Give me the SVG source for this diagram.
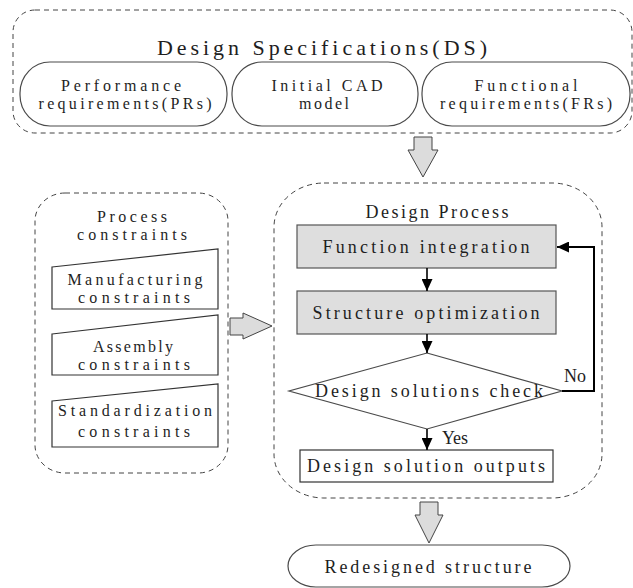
<svg xmlns="http://www.w3.org/2000/svg" width="633" height="588" viewBox="0 0 633 588">
  <style>
    text { font-family: "Liberation Serif", "DejaVu Serif", serif; fill: #1e1e1e; font-size: 18px; text-anchor: middle; }
    .title { font-size: 22px; }
    .two { font-size: 16px; }
    .dash { fill: none; stroke: #444; stroke-width: 1; stroke-dasharray: 5 4; }
    .pill { fill: #fff; stroke: #4a4a4a; stroke-width: 1.2; }
    .gray { fill: #dedede; stroke: #555; stroke-width: 1.2; }
    .plain { fill: #fff; stroke: #333; stroke-width: 1.2; }
    .block { fill: #dcdcdc; stroke: #444; stroke-width: 1; }
    .flow { fill: none; stroke: #000; stroke-width: 1.6; }
    .loop { fill: none; stroke: #000; stroke-width: 2; }
  </style>
  <defs>
    <marker id="head" markerUnits="userSpaceOnUse" markerWidth="12" markerHeight="11" refX="12" refY="5.5" orient="auto">
      <path d="M0,0 L12,5.5 L0,11 z" fill="#000"/>
    </marker>
  </defs>

  <rect width="633" height="588" fill="#fff"/>

  <g font-family="Liberation Serif, DejaVu Serif, serif">
  <!-- Design specifications group -->
  <g id="design-specifications">
    <rect class="dash" x="13" y="10" width="619" height="123" rx="22" ry="22"/>
    <text class="title" x="322" y="55" textLength="330" lengthAdjust="spacing">Design Specifications(DS)</text>
  </g>
  <g id="performance-requirements">
    <rect class="pill" x="20" y="62" width="207" height="64" rx="30" ry="31"/>
    <text class="two"><tspan x="121" y="91" textLength="120" lengthAdjust="spacing">Performance</tspan><tspan x="125" y="109" textLength="173" lengthAdjust="spacing">requirements(PRs)</tspan></text>
  </g>
  <g id="initial-cad-model">
    <rect class="pill" x="232" y="62" width="186" height="64" rx="30" ry="31"/>
    <text class="two"><tspan x="327" y="91" textLength="111" lengthAdjust="spacing">Initial CAD</tspan><tspan x="324" y="109" textLength="50" lengthAdjust="spacing">model</tspan></text>
  </g>
  <g id="functional-requirements">
    <rect class="pill" x="422" y="62" width="208" height="64" rx="30" ry="31"/>
    <text class="two"><tspan x="526" y="91" textLength="103" lengthAdjust="spacing">Functional</tspan><tspan x="526" y="109" textLength="172" lengthAdjust="spacing">requirements(FRs)</tspan></text>
  </g>

  <!-- Process constraints group -->
  <g id="process-constraints">
    <rect class="dash" x="35" y="193" width="193" height="280" rx="30" ry="28"/>
    <text class="two"><tspan x="132" y="222" textLength="70" lengthAdjust="spacing">Process</tspan><tspan x="132" y="240" textLength="110" lengthAdjust="spacing">constraints</tspan></text>
  </g>
  <g id="manufacturing-constraints">
    <polygon class="plain" points="52,267 218,249 218,309 52,309"/>
    <text class="two"><tspan x="135" y="285" textLength="135" lengthAdjust="spacing">Manufacturing</tspan><tspan x="134" y="303" textLength="112" lengthAdjust="spacing">constraints</tspan></text>
  </g>
  <g id="assembly-constraints">
    <polygon class="plain" points="52,334 218,315 218,375 52,375"/>
    <text class="two"><tspan x="133" y="352" textLength="80" lengthAdjust="spacing">Assembly</tspan><tspan x="134" y="370" textLength="112" lengthAdjust="spacing">constraints</tspan></text>
  </g>
  <g id="standardization-constraints">
    <polygon class="plain" points="52,401 218,384 218,447 52,447"/>
    <text class="two"><tspan x="135" y="416" textLength="154" lengthAdjust="spacing">Standardization</tspan><tspan x="134" y="437" textLength="112" lengthAdjust="spacing">constraints</tspan></text>
  </g>

  <!-- Design process group -->
  <g id="design-process">
    <rect class="dash" x="274" y="183" width="328" height="315" rx="50" ry="44"/>
    <text x="437" y="218" textLength="143" lengthAdjust="spacing">Design Process</text>
  </g>
  <g id="function-integration">
    <rect class="gray" x="297" y="225" width="259" height="43"/>
    <text x="426" y="253" textLength="207" lengthAdjust="spacing">Function integration</text>
  </g>
  <g id="structure-optimization">
    <rect class="gray" x="297" y="291" width="259" height="43"/>
    <text x="426" y="319" textLength="227" lengthAdjust="spacing">Structure optimization</text>
  </g>
  <g id="solutions-check">
    <polygon class="pill" points="427,353 562,391 427,429 289,391"/>
    <text x="429" y="397" textLength="228" lengthAdjust="spacing">Design solutions check</text>
  </g>
  <g id="solution-outputs">
    <rect class="plain" x="300" y="450" width="253" height="32"/>
    <text x="426" y="472" textLength="238" lengthAdjust="spacing">Design solution outputs</text>
  </g>

  <g id="redesigned-structure">
    <rect class="pill" x="288" y="545" width="282" height="42" rx="28" ry="21"/>
    <text x="428" y="573" textLength="207" lengthAdjust="spacing">Redesigned structure</text>
  </g>

  <!-- Connectors -->
  <g id="connectors">
    <polygon class="block" points="414,137 432,137 432,150 438,150 423,177 408,150 414,150"/>
    <polygon class="block" points="230,318 243,318 243,313 272,326 243,339 243,335 230,335"/>
    <polygon class="block" points="420,502 438,502 438,515 443,515 429,543 415,515 420,515"/>
    <line class="flow" x1="427" y1="268" x2="427" y2="291" marker-end="url(#head)"/>
    <line class="flow" x1="427" y1="334" x2="427" y2="353" marker-end="url(#head)"/>
    <line class="flow" x1="427" y1="429" x2="427" y2="450" marker-end="url(#head)"/>
    <polyline class="loop" points="562,391 594,391 594,247 557,247" marker-end="url(#head)"/>
    <text x="575" y="382">No</text>
    <text x="455" y="444">Yes</text>
  </g>
  </g>
</svg>
